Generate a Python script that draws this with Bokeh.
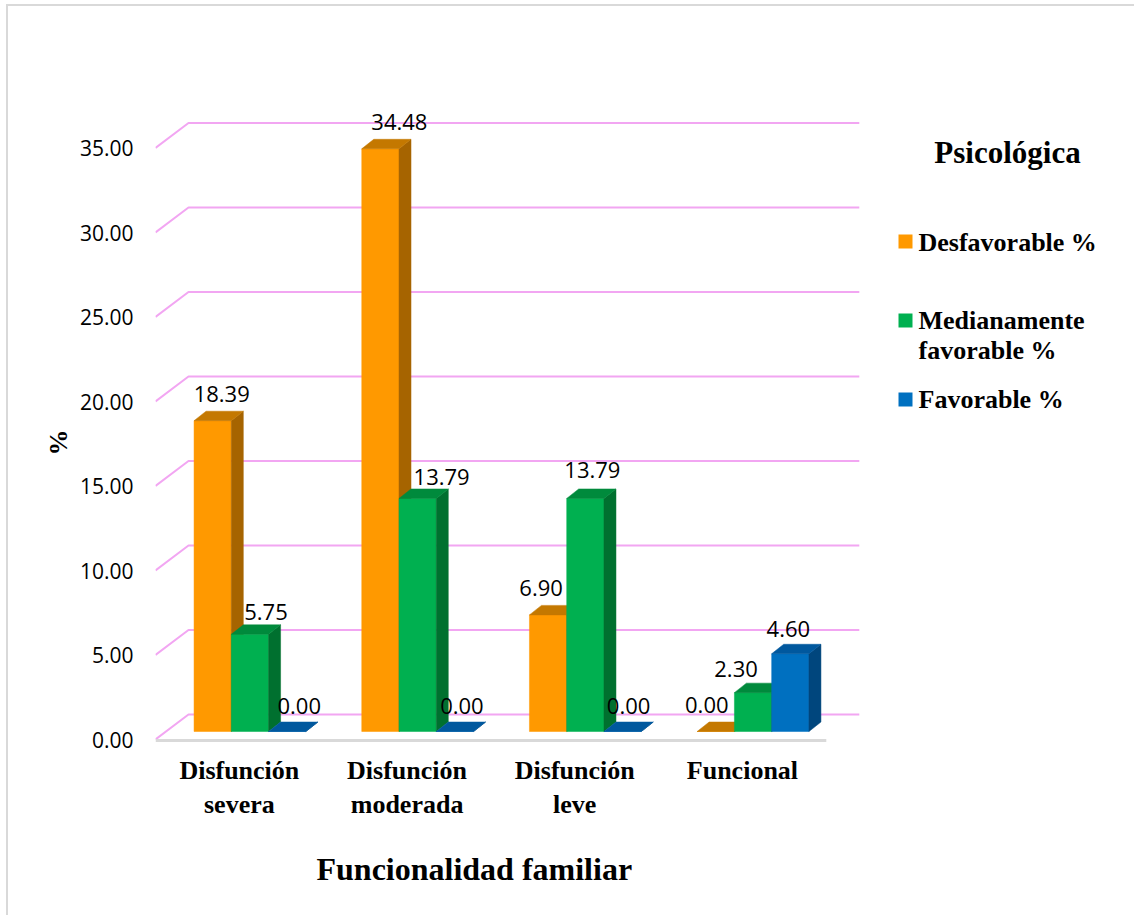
from bokeh.plotting import figure
from bokeh.models import Range1d, FixedTicker, NumeralTickFormatter, ColumnDataSource, Title
from bokeh.core.properties import value
from bokeh.embed import file_html
from bokeh.resources import INLINE

# ---- data -------------------------------------------------------------
categories = ["Disfunción severa", "Disfunción moderada", "Disfunción leve", "Funcional"]
category_labels = ["Disfunción\nsevera", "Disfunción\nmoderada", "Disfunción\nleve", "Funcional"]
series_names = ["Desfavorable %", "Medianamente favorable %", "Favorable %"]
desfavorable = [18.39, 34.48, 6.90, 0.00]
medianamente_favorable = [5.75, 13.79, 13.79, 2.30]
favorable = [0.00, 0.00, 0.00, 4.60]
y_ticks = [0, 5, 10, 15, 20, 25, 30, 35]

series_values = [desfavorable, medianamente_favorable, favorable]

# ---- styling ----------------------------------------------------------
front_colors = ["#FF9900", "#00B050", "#0070C0"]
side_colors = ["#A66400", "#00702F", "#00467D"]
top_colors = ["#C47800", "#008A3C", "#00589E"]
grid_color = "#F2A6F2"
floor_color = "#D9D9D9"
SERIF = "Liberation Serif"

# label nudges in screen pixels (right, up) from the top of each bar
label_dx = [[3, 13, -13, -15], [10, 18, 1, -23], [6, 1, 0, -8]]
label_up = [[27, 27, 27, 27], [22, 21, 28, 24], [26, 26, 26, 25]]

# ---- page geometry (pixels) --------------------------------------------
PAGE_W, PAGE_H = 1136, 917
ORIGIN_X, ORIGIN_Y = 8, 6          # content start inside the thin page frame
FRAME_LEFT = 155                   # front-left corner of the floor
FRAME_BOTTOM = 745
ZERO_Y = 739                       # front floor edge
PX_X = 167.7                       # pixels per category
PX_Y = 16.9                        # pixels per percentage point

W = PAGE_W - ORIGIN_X
H = PAGE_H - ORIGIN_Y

def dx(px):
    return px / PX_X

def dy(px):
    return px / PX_Y

def X(page_px):
    return (page_px - FRAME_LEFT) / PX_X

def Y(page_py):
    return (ZERO_Y - page_py) / PX_Y

# oblique depth of the walls and of the bars
WALL_DX, WALL_DY = dx(33), dy(25)
BAR_FX, BAR_FY = dx(10.6), dy(8)
BAR_DX, BAR_DY = dx(12), dy(9.5)
n_cat = len(categories)
n_ser = len(series_values)
BW = 1.0 / (n_ser + 1.5)           # gap width 150 %

p = figure(
    width=W, height=H,
    x_range=Range1d(0, X(PAGE_W)),
    y_range=Range1d(Y(FRAME_BOTTOM), Y(ORIGIN_Y)),
    output_backend="svg", toolbar_location=None,
    min_border_left=FRAME_LEFT - ORIGIN_X, min_border_right=0,
    min_border_top=0, min_border_bottom=PAGE_H - FRAME_BOTTOM,
    background_fill_color="white", border_fill_color="white",
    outline_line_color=None,
)
p.styles = {
    "margin-left": "6px", "margin-top": "4px",
    "border-left": "2px solid #D9D9D9", "border-top": "2px solid #D9D9D9",
}
p.xgrid.visible = False
p.ygrid.visible = False

# ---- walls: gridlines on side and back wall -----------------------------
gx, gy = [], []
for v in y_ticks:
    gx.append([0, WALL_DX, n_cat + WALL_DX])
    gy.append([v, v + WALL_DY, v + WALL_DY])
p.multi_line(gx, gy, line_color=grid_color, line_width=2)

# floor front edge
p.line([0, n_cat], [-dy(1)] * 2, line_color=floor_color, line_width=3)

# ---- 3D bars -------------------------------------------------------------
xs, ys, colors = [], [], []
lab_x, lab_y, lab_t, lab_ox, lab_oy = [], [], [], [], []
for i in range(n_cat):
    for j in range(n_ser):
        v = series_values[j][i]
        x0 = i + 0.5 - n_ser * BW / 2 + j * BW + BAR_FX
        x1 = x0 + BW
        b = BAR_FY
        t = b + v
        # front face
        xs.append([x0, x1, x1, x0]); ys.append([b, b, t, t]); colors.append(front_colors[j])
        # side face
        xs.append([x1, x1 + BAR_DX, x1 + BAR_DX, x1])
        ys.append([b, b + BAR_DY, t + BAR_DY, t]); colors.append(side_colors[j])
        # top face
        xs.append([x0, x0 + BAR_DX, x1 + BAR_DX, x1])
        ys.append([t, t + BAR_DY, t + BAR_DY, t]); colors.append(top_colors[j])
        # value label
        lab_x.append(x0 + BW / 2 + BAR_DX / 2)
        lab_y.append(v)
        lab_t.append(f"{v:.2f}")
        lab_ox.append(label_dx[j][i])
        lab_oy.append(-(label_up[j][i] + 8))

p.patches(xs, ys, fill_color=colors, line_color=colors, line_width=0.5)

labels = ColumnDataSource(dict(x=lab_x, y=lab_y, text=lab_t, ox=lab_ox, oy=lab_oy))
p.text(x="x", y="y", text="text", x_offset="ox", y_offset="oy", source=labels,
       text_font=value("Open Sans"), text_font_size="22px", text_color="black",
       text_align="center", text_baseline="middle")

# ---- legend ------------------------------------------------------------
p.text(x=[X(1007)], y=[Y(152)], text=["Psicológica"],
       text_font=value(SERIF), text_font_style="bold",
       text_font_size="31px", text_color="black",
       text_align="center", text_baseline="middle")
leg_sq_y = [Y(241), Y(320), Y(399)]
p.scatter(x=[X(905)] * n_ser, y=leg_sq_y, marker="square", size=14,
          fill_color=front_colors, line_color=None)
leg_lines = [("Desfavorable %", 242), ("Medianamente", 320),
             ("favorable %", 350), ("Favorable %", 399)]
p.text(x=[X(918)] * len(leg_lines), y=[Y(py) for _, py in leg_lines],
       text=[t for t, _ in leg_lines],
       text_font=value(SERIF), text_font_style="bold",
       text_font_size="26px", text_color="black",
       text_align="left", text_baseline="middle")

# ---- axes --------------------------------------------------------------
xa = p.xaxis[0]
xa.ticker = FixedTicker(ticks=[i + 0.5 for i in range(n_cat)])
xa.major_label_overrides = {i + 0.5: category_labels[i] for i in range(n_cat)}
xa.axis_line_color = None
xa.major_tick_line_color = None
xa.minor_tick_line_color = None
xa.major_tick_out = 0
xa.major_label_standoff = 10
xa.major_label_text_font = SERIF
xa.major_label_text_font_style = "bold"
xa.major_label_text_font_size = "26px"
xa.major_label_text_color = "black"

ya = p.yaxis[0]
ya.ticker = FixedTicker(ticks=y_ticks)
ya.formatter = NumeralTickFormatter(format="0.00")
ya.axis_line_color = None
ya.major_tick_line_color = None
ya.minor_tick_line_color = None
ya.major_tick_out = 0
ya.major_label_standoff = 22
ya.major_label_text_font = "Open Sans"
ya.major_label_text_font_size = "21px"
ya.major_label_text_color = "black"

# axis titles, placed along the axes rather than centred on the frame
x_title = Title(text="Funcionalidad familiar", align="left", offset=161,
                vertical_align="top", standoff=56,
                text_font=SERIF, text_font_style="bold",
                text_font_size="32px", text_color="black")
p.add_layout(x_title, "below")

y_title = Title(text="%", align="left", offset=290,
                vertical_align="bottom", standoff=7,
                text_font=SERIF, text_font_style="bold",
                text_font_size="26px", text_color="black")
p.add_layout(y_title, "left")

open("out.html", "w").write(file_html(p, INLINE))
